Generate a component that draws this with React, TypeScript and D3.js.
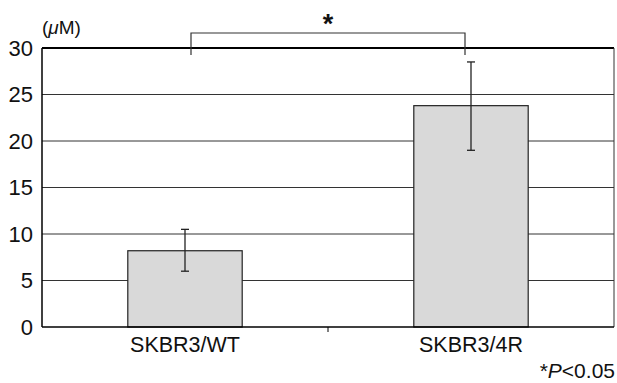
import React from 'react';
import * as d3 from 'd3';

const categories = ['SKBR3/WT', 'SKBR3/4R'];
const means = [8.2, 23.8];
const errLow = [6.0, 19.0];
const errHigh = [10.5, 28.5];
const yTicks = [0, 5, 10, 15, 20, 25, 30];

const W = 617;
const H = 383;
const margin = { left: 42, right: 3, top: 48, bottom: 56 };

export default function App() {
  const x = d3.scaleBand<string>()
    .domain(categories)
    .range([margin.left, W - margin.right])
    .paddingInner(0.6)
    .paddingOuter(0.3);
  const y = d3.scaleLinear().domain([0, 30]).range([H - margin.bottom, margin.top]);

  const x0 = margin.left;
  const x1 = W - margin.right;
  const font = 'Liberation Sans, Arial, sans-serif';
  const bw = x.bandwidth();
  const mid = (x0 + x1) / 2;
  const cx = categories.map(c => (x(c) as number) + bw / 2);

  return (
    <svg width={W} height={H} style={{ position: 'absolute', left: 0, top: 0 }} fontFamily={font}>
      <rect width={W} height={H} fill="#fff" />
      {/* gridlines */}
      {yTicks.filter(t => t > 0 && t < 30).map(t => (
        <line key={t} x1={x0} x2={x1} y1={y(t)} y2={y(t)} stroke="#333" strokeWidth={1} />
      ))}
      {/* frame */}
      <line x1={x0} x2={x1} y1={y(30)} y2={y(30)} stroke="#000" strokeWidth={2} />
      <line x1={x1} x2={x1} y1={y(30)} y2={y(0)} stroke="#333" strokeWidth={1} />
      <line x1={x0} x2={x0} y1={y(30)} y2={y(0)} stroke="#000" strokeWidth={1.5} />
      {/* bars */}
      {categories.map((c, i) => (
        <rect key={c} x={x(c)} y={y(means[i])} width={bw} height={y(0) - y(means[i])}
          fill="#d9d9d9" stroke="#222" strokeWidth={1.2} />
      ))}
      {/* error bars */}
      {categories.map((c, i) => (
        <g key={c} stroke="#222" strokeWidth={1.3}>
          <line x1={cx[i]} x2={cx[i]} y1={y(errLow[i])} y2={y(errHigh[i])} />
          <line x1={cx[i] - 4} x2={cx[i] + 4} y1={y(errLow[i])} y2={y(errLow[i])} />
          <line x1={cx[i] - 4} x2={cx[i] + 4} y1={y(errHigh[i])} y2={y(errHigh[i])} />
        </g>
      ))}
      {/* x axis */}
      <line x1={x0} x2={x1} y1={y(0)} y2={y(0)} stroke="#000" strokeWidth={1.5} />
      <line x1={mid} x2={mid} y1={y(0)} y2={y(0) + 5} stroke="#000" strokeWidth={1} />
      {categories.map((c, i) => (
        <text key={c} x={cx[i]} y={y(0) + 25} textAnchor="middle" fontSize={21.5} fill="#111">{c}</text>
      ))}
      {/* y labels */}
      {yTicks.map(t => (
        <text key={t} x={x0 - 9} y={y(t) + 7.5} textAnchor="end" fontSize={22} fill="#111">{t}</text>
      ))}
      <text x={x0} y={34} fontSize={19} fill="#111">(<tspan fontStyle="italic">μ</tspan>M)</text>
      {/* significance bracket */}
      <path d={`M${cx[0] + 6},${y(30) + 7} V${y(30) - 15} H${cx[1] - 6} V${y(30) + 7}`}
        fill="none" stroke="#333" strokeWidth={1.2} />
      <text x={mid} y={y(30) - 15} textAnchor="middle" fontSize={27} fontWeight="bold" fill="#111">*</text>
      <text x={x1 + 1} y={H - 5} textAnchor="end" fontSize={21} fill="#111">
        *<tspan fontStyle="italic">P</tspan>&lt;0.05
      </text>
    </svg>
  );
}
